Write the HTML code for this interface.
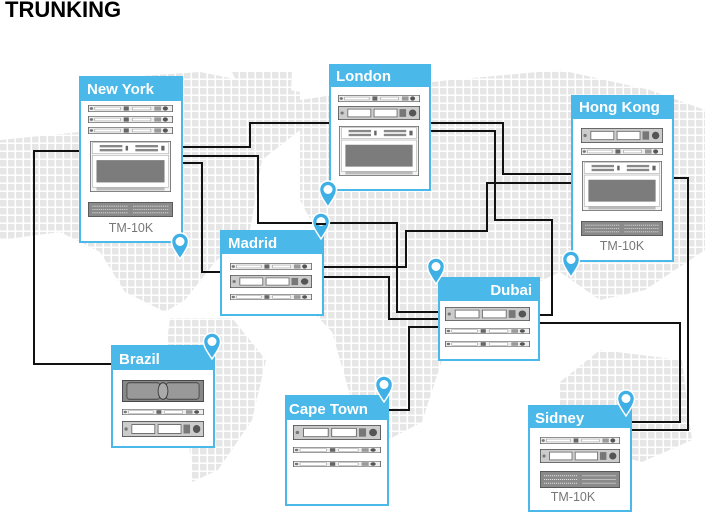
<!DOCTYPE html>
<html><head><meta charset="utf-8"><style>
html,body{margin:0;padding:0;background:#fff;}
svg{display:block;}
</style></head><body>
<svg width="709" height="512" viewBox="0 0 709 512" xmlns="http://www.w3.org/2000/svg" font-family="Liberation Sans, sans-serif">
<defs>
<pattern id="g" width="8" height="8" patternUnits="userSpaceOnUse"><rect x="0" y="0" width="6.5" height="6.5" fill="#e6e6e6"/></pattern>
<symbol id="u1" viewBox="0 0 100 10" preserveAspectRatio="none">
<rect x="0.5" y="0.5" width="99" height="9" fill="#eee" stroke="#666"/>
<rect x="8" y="3" width="30" height="4" fill="#fff" stroke="#888" stroke-width=".6"/>
<rect x="42" y="2" width="6" height="6" fill="#666"/>
<rect x="52" y="3" width="22" height="4" fill="#fff" stroke="#888" stroke-width=".6"/>
<rect x="78" y="2" width="8" height="6" fill="#999"/>
<circle cx="91" cy="5" r="3" fill="#555"/><circle cx="4" cy="5" r="2" fill="#777"/>
</symbol>
<symbol id="u2" viewBox="0 0 100 18" preserveAspectRatio="none">
<rect x="0.5" y="0.5" width="99" height="17" fill="#ccc" stroke="#555"/>
<rect x="12" y="4" width="28" height="10" fill="#fff" stroke="#666"/>
<rect x="44" y="4" width="28" height="10" fill="#fff" stroke="#666"/>
<rect x="75" y="4" width="8" height="10" fill="#777"/>
<circle cx="91" cy="9" r="4.5" fill="#555"/><circle cx="5" cy="9" r="2" fill="#777"/>
</symbol>
<symbol id="u4" viewBox="0 0 100 64" preserveAspectRatio="none">
<rect x="0.5" y="0.5" width="99" height="63" fill="#f4f4f4" stroke="#666"/>
<rect x="3" y="2" width="94" height="14" fill="#fff" stroke="#999" stroke-width=".6"/>
<rect x="12" y="5" width="28" height="3" fill="#888"/><rect x="12" y="10" width="28" height="3" fill="#888"/>
<rect x="56" y="5" width="28" height="3" fill="#888"/><rect x="56" y="10" width="28" height="3" fill="#888"/>
<rect x="44" y="6" width="3" height="6" fill="#666"/><rect x="88" y="6" width="4" height="6" fill="#666"/>
<rect x="3" y="18" width="94" height="40" fill="#fff" stroke="#999" stroke-width=".6"/>
<rect x="8" y="24" width="84" height="28" fill="#7c7c7c"/>
<rect x="8" y="58" width="84" height="4" fill="#bbb"/>
</symbol>
<symbol id="pt" viewBox="0 0 100 18" preserveAspectRatio="none">
<rect x="0.5" y="0.5" width="99" height="17" fill="#8a8a8a" stroke="#555"/>
<g stroke="#ddd" stroke-width="1" stroke-dasharray="1.5 1">
<line x1="5" y1="5" x2="47" y2="5"/><line x1="5" y1="9" x2="47" y2="9"/><line x1="5" y1="13" x2="47" y2="13"/>
<line x1="53" y1="5" x2="95" y2="5"/><line x1="53" y1="9" x2="95" y2="9"/><line x1="53" y1="13" x2="95" y2="13"/>
</g>
</symbol>
<symbol id="u3" viewBox="0 0 100 24" preserveAspectRatio="none">
<rect x="0.5" y="0.5" width="99" height="23" fill="#888" stroke="#444"/>
<rect x="6" y="3" width="40" height="18" rx="3" fill="#999" stroke="#444"/>
<rect x="54" y="3" width="40" height="18" rx="3" fill="#999" stroke="#444"/>
<ellipse cx="50" cy="12" rx="6" ry="9" fill="#aaa" stroke="#333"/>
</symbol>
<symbol id="pin" viewBox="0 0 20 28">
<path d="M10 27 C4 18 1.5 14 1.5 9.5 A8.5 8.5 0 0 1 18.5 9.5 C18.5 14 16 18 10 27Z" fill="#3fb0e6" stroke="#fff" stroke-width="1.5"/>
<circle cx="10" cy="9.5" r="4.5" fill="#fff"/>
</symbol>
</defs>

<!-- map -->
<g fill="url(#g)">
<polygon points="0,140 80,132 90,82 140,76 200,72 300,92 300,130 262,160 250,230 215,262 185,300 165,312 125,292 100,252 60,232 0,240"/>
<polygon points="232,72 292,72 290,110 250,112"/>
<polygon points="170,318 232,318 266,360 252,420 218,470 192,482 186,400 166,350"/>
<polygon points="300,100 380,88 450,80 560,70 650,90 705,110 705,250 645,290 600,300 560,272 500,300 445,292 402,250 322,242 300,200"/>
<polygon points="300,240 402,240 462,300 442,360 422,422 384,442 352,402 332,332 292,290"/>
<polygon points="560,382 600,350 682,360 692,440 642,462 560,442"/>
</g>

<text x="5" y="17" font-size="22" font-weight="bold" fill="#000">TRUNKING</text>

<!-- lines -->
<g fill="none" stroke="#111" stroke-width="2">
<polyline points="79,151 34,151 34,364 111,364"/>
<polyline points="182,147 250,147 250,123 329,123"/>
<polyline points="182,156 258,156 258,223 397,223 397,312 438,312"/>
<polyline points="182,163 202,163 202,272 220,272"/>
<polyline points="430,123 503,123 503,174 571,174"/>
<polyline points="430,131 495,131 495,220 552,220 552,315 539,315"/>
<polyline points="571,183 487,183 487,231 406,231 406,267 323,267"/>
<polyline points="323,277 389,277 389,319 438,319"/>
<polyline points="438,327 409,327 409,410 388,410"/>
<polyline points="539,323 680,323 680,422 631,422"/>
<polyline points="673,178 688,178 688,430 631,430"/>
</g>

<!-- boxes -->
<g stroke="#4ab8e8" stroke-width="2" fill="#fff">
<rect x="80" y="77" width="102" height="165"/>
<rect x="330" y="65" width="100" height="125"/>
<rect x="572" y="96" width="101" height="165"/>
<rect x="221" y="231" width="102" height="84"/>
<rect x="439" y="278" width="100" height="82"/>
<rect x="112" y="346" width="102" height="101"/>
<rect x="286" y="396" width="102" height="109"/>
<rect x="529" y="406" width="102" height="105"/>
</g>
<g fill="#4ab8e8">
<rect x="79" y="76" width="104" height="25"/>
<rect x="329" y="64" width="102" height="23"/>
<rect x="571" y="95" width="103" height="24"/>
<rect x="220" y="230" width="104" height="24"/>
<rect x="438" y="277" width="102" height="24"/>
<rect x="111" y="345" width="104" height="25"/>
<rect x="285" y="395" width="104" height="25"/>
<rect x="528" y="405" width="104" height="23"/>
</g>
<g fill="#fff" font-weight="bold" font-size="15">
<text x="87" y="94">New York</text>
<text x="336" y="81">London</text>
<text x="579" y="112">Hong Kong</text>
<text x="228" y="248">Madrid</text>
<text x="532" y="295" text-anchor="end">Dubai</text>
<text x="119" y="364">Brazil</text>
<text x="289" y="414">Cape Town</text>
<text x="535" y="423">Sidney</text>
</g>
<g fill="#777" font-size="12.5" text-anchor="middle">
<text x="131" y="232">TM-10K</text>
<text x="622" y="250">TM-10K</text>
<text x="573" y="501">TM-10K</text>
</g>

<!-- devices -->
<use href="#u1" x="88" y="105" width="85" height="7"/>
<use href="#u1" x="88" y="116" width="85" height="7"/>
<use href="#u1" x="88" y="127" width="85" height="7"/>
<use href="#u4" x="90" y="141" width="81" height="51"/>
<use href="#pt" x="88" y="202" width="85" height="15"/>

<use href="#u1" x="338" y="95" width="82" height="7"/>
<use href="#u2" x="338" y="106" width="82" height="14"/>
<use href="#u4" x="339" y="126" width="80" height="50"/>

<use href="#u2" x="581" y="128" width="82" height="15"/>
<use href="#u1" x="581" y="148" width="82" height="7"/>
<use href="#u4" x="582" y="161" width="80" height="50"/>
<use href="#pt" x="581" y="221" width="82" height="15"/>

<use href="#u1" x="230" y="263" width="82" height="7"/>
<use href="#u2" x="230" y="275" width="82" height="13"/>
<use href="#u1" x="230" y="294" width="82" height="6"/>

<use href="#u2" x="445" y="307" width="85" height="14"/>
<use href="#u1" x="445" y="328" width="85" height="6"/>
<use href="#u1" x="445" y="341" width="85" height="6"/>

<use href="#u3" x="122" y="380" width="82" height="22"/>
<use href="#u1" x="122" y="409" width="82" height="6"/>
<use href="#u2" x="122" y="421" width="82" height="16"/>

<use href="#u2" x="293" y="425" width="88" height="15"/>
<use href="#u1" x="293" y="447" width="88" height="6"/>
<use href="#u1" x="293" y="461" width="88" height="6"/>

<use href="#u1" x="540" y="437" width="80" height="7"/>
<use href="#u2" x="540" y="449" width="80" height="14"/>
<use href="#pt" x="540" y="471" width="80" height="17"/>

<!-- pins -->
<use href="#pin" x="170" y="232" width="20" height="28"/>
<use href="#pin" x="318" y="180" width="20" height="28"/>
<use href="#pin" x="311" y="212" width="20" height="28"/>
<use href="#pin" x="426" y="257" width="20" height="28"/>
<use href="#pin" x="561" y="250" width="20" height="28"/>
<use href="#pin" x="202" y="332" width="20" height="28"/>
<use href="#pin" x="374" y="375" width="20" height="28"/>
<use href="#pin" x="616" y="389" width="20" height="28"/>
<line x1="316" y1="224" x2="326" y2="224" stroke="#111" stroke-width="2"/>
</svg>
</body></html>
